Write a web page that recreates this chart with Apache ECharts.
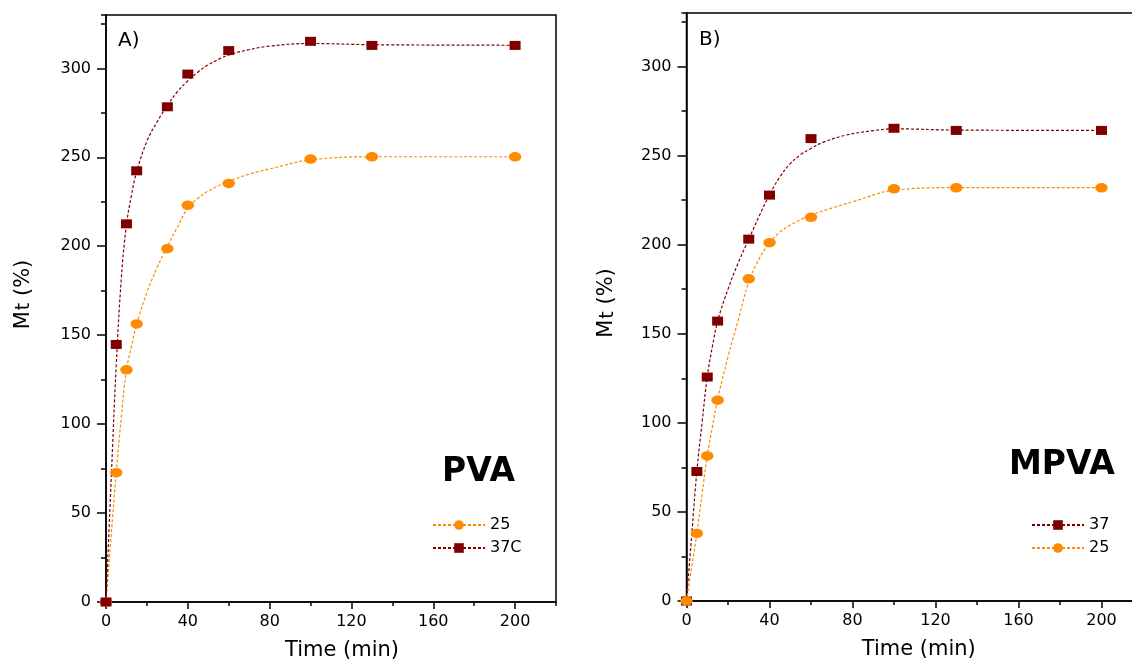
<!DOCTYPE html>
<html><head><meta charset="utf-8">
<script src="https://cdn.jsdelivr.net/npm/echarts@6/dist/echarts.min.js"></script>
<style>html,body{margin:0;padding:0;background:#fff}#c{width:1132px;height:660px}</style>
</head><body><div id="c"></div>
<script>
// ---- measured points ----
const timeMin = [0, 5, 10, 15, 30, 40, 60, 100, 130, 200];
const pva25  = [0, 72.7, 130.5, 156.3, 198.6, 223, 235.3, 249, 250.3, 250.3];
const pva37  = [0, 144.8, 212.6, 242.4, 278.4, 296.8, 310, 315.2, 312.9, 312.9];
const mpva37 = [0, 72.7, 125.7, 157.1, 203.1, 227.8, 259.5, 265.3, 264.1, 264.1];
const mpva25 = [0, 37.9, 81.4, 112.7, 180.8, 201.1, 215.3, 231.3, 231.9, 231.9];

// ---- dashed curves ----
const pva37CurveT = [0,2.5,5,7.5,10,12.5,15,20,25,30,35,40,45,50,60,70,80,100,130,200];
const pva37CurveY = [0,68,133,182,212,229,242,259,270,279,287,293,298,302,307.5,310.5,312.5,314,313.3,313];
const pva25CurveT = [0,2.5,5,7.5,10,12.5,15,20,25,30,35,40,45,50,60,70,80,100,130,200];
const pva25CurveY = [0,37,72.7,104,130.5,144,156.3,174,188,200,211,221.5,227,231,236.5,240.5,243.5,248.5,250.3,250.3];
const mpva37CurveT = [0,2.5,5,7.5,10,12.5,15,20,25,30,35,40,45,50,55,60,66,77,90,100,130,200];
const mpva37CurveY = [0,37,73,100,126,143,157,175,190,203,216,228,238,245.5,250.5,254,257.5,261.5,264,265,264.3,264.1];
const mpva25CurveT = [0,2.5,5,7.5,10,12.5,15,20,25,30,35,40,45,50,60,70,80,100,130,200];
const mpva25CurveY = [0,19,38,60,81.5,98,113,137,158,179,192,201,207,211,216.5,220.5,224,230.5,232,232];

// ---- axes ----
const xMax = 220, xStep = 40, xMinorStep = 20;
const yMax = 330, yStep = 50, yMinorStep = 25;
const xTitle = 'Time (min)';
const panelLabels = ['A)', 'B)'];
const panelNames = ['PVA', 'MPVA'];

const RED = '#800000', ORANGE = '#FF8A00';
const FONT = 'DejaVu Sans';

const pairs = (xs, ys) => xs.map((x, i) => [x, ys[i]]);

function mainX(grid, namePad) {
  return {
    gridIndex: grid, type: 'value', min: 0, max: xMax, interval: xStep,
    name: xTitle, nameLocation: 'middle', nameGap: 38,
    nameTextStyle: { fontFamily: FONT, fontSize: 21, color: '#000', padding: [0, 0, 0, namePad] },
    axisLine: { onZero: false, lineStyle: { color: '#000', width: 1.5 } },
    axisTick: { length: 7, lineStyle: { color: '#000', width: 1.5 } },
    axisLabel: { fontFamily: FONT, fontSize: 16, color: '#000', margin: 12, showMaxLabel: false },
    splitLine: { show: false }
  };
}
function minorX(grid) {
  return {
    gridIndex: grid, type: 'value', position: 'bottom', min: 0, max: xMax, interval: xMinorStep,
    axisLine: { show: false }, axisLabel: { show: false }, splitLine: { show: false },
    axisTick: { length: 4, lineStyle: { color: '#000', width: 1.5 } }
  };
}
function mainY(grid, nameGap, namePad) {
  return {
    gridIndex: grid, type: 'value', min: 0, max: yMax, interval: yStep, position: 'left',
    name: '{m|M}{t|t}{p| (%)}', nameLocation: 'middle', nameGap: nameGap, nameRotate: 90,
    nameTextStyle: {
      fontFamily: FONT, fontSize: 21, color: '#000', padding: [0, 0, 0, namePad],
      rich: {
        m: { fontFamily: FONT, fontSize: 21, lineHeight: 21, color: '#000' },
        t: { fontFamily: FONT, fontSize: 19, lineHeight: 19, color: '#000', padding: [12, 0, 0, 1], verticalAlign: 'bottom' },
        p: { fontFamily: FONT, fontSize: 21, lineHeight: 21, color: '#000' }
      }
    },
    axisLine: { onZero: false, lineStyle: { color: '#000', width: 1.5 } },
    axisTick: { length: 9, lineStyle: { color: '#000', width: 1.5 } },
    axisLabel: { fontFamily: FONT, fontSize: 16, color: '#000', margin: 15, showMaxLabel: false },
    splitLine: { show: false }
  };
}
function minorY(grid) {
  return {
    gridIndex: grid, type: 'value', position: 'left', min: 0, max: yMax, interval: yMinorStep,
    axisLine: { show: false }, axisLabel: { show: false }, splitLine: { show: false },
    axisTick: { length: 5, lineStyle: { color: '#000', width: 1.5 } }
  };
}

function curve(name, grid, xs, ys, color, symbol, size) {
  return {
    name, type: 'line', xAxisIndex: grid * 2, yAxisIndex: grid * 2,
    data: pairs(xs, ys), smooth: 0.4,
    showSymbol: false, symbol, symbolSize: size,
    lineStyle: { color, width: 1.2, type: [3, 2] }, itemStyle: { color },
    z: 2, silent: true
  };
}
function pts(name, grid, ys, color, symbol, size) {
  return {
    name, type: 'scatter', xAxisIndex: grid * 2, yAxisIndex: grid * 2,
    data: pairs(timeMin, ys), symbol, symbolSize: size,
    itemStyle: { color, opacity: 1 }, z: 5, silent: true
  };
}

const legendBase = {
  orient: 'vertical', itemWidth: 52, itemHeight: 12, itemGap: 7, selectedMode: false,
  textStyle: { fontFamily: FONT, fontSize: 16, color: '#000' }
};

const option = {
  animation: false,
  backgroundColor: '#fff',
  grid: [
    { left: 106, top: 15, width: 450, height: 587, show: true, borderColor: '#000', borderWidth: 1.5,
      outerBoundsMode: 'none', containLabel: false },
    { left: 686.5, top: 13, width: 456.5, height: 588, show: true, borderColor: '#000', borderWidth: 1.5,
      outerBoundsMode: 'none', containLabel: false }
  ],
  xAxis: [mainX(0, 22), minorX(0), mainX(1, 8), minorX(1)],
  yAxis: [mainY(0, 72, 28), minorY(0), mainY(1, 69, 8), minorY(1)],
  legend: [
    Object.assign({}, legendBase, { left: 427, top: 512, data: ['25', '37C'] }),
    Object.assign({}, legendBase, { left: 1026, top: 512, data: ['37', '25'] })
  ],
  series: [
    curve('25', 0, pva25CurveT, pva25CurveY, ORANGE, 'circle', [12.5, 9.5]),
    curve('37C', 0, pva37CurveT, pva37CurveY, RED, 'rect', [11, 9]),
    curve('37', 1, mpva37CurveT, mpva37CurveY, RED, 'rect', [11, 9]),
    curve('25', 1, mpva25CurveT, mpva25CurveY, ORANGE, 'circle', [12.5, 9.5]),
    pts('25', 0, pva25, ORANGE, 'circle', [12.5, 9.5]),
    pts('37C', 0, pva37, RED, 'rect', [11, 9]),
    pts('37', 1, mpva37, RED, 'rect', [11, 9]),
    pts('25', 1, mpva25, ORANGE, 'circle', [12.5, 9.5])
  ],
  graphic: [
    { type: 'text', x: 118, y: 41, style: { text: panelLabels[0], font: '20px "DejaVu Sans"', fill: '#000', verticalAlign: 'middle' } },
    { type: 'text', x: 699, y: 40, style: { text: panelLabels[1], font: '20px "DejaVu Sans"', fill: '#000', verticalAlign: 'middle' } },
    { type: 'text', x: 442, y: 472, style: { text: panelNames[0], font: 'bold 33px "DejaVu Sans"', fill: '#000', verticalAlign: 'middle' } },
    { type: 'text', x: 1009, y: 465, style: { text: panelNames[1], font: 'bold 33px "DejaVu Sans"', fill: '#000', verticalAlign: 'middle' } }
  ]
};

const chart = echarts.init(document.getElementById('c'), null, { renderer: 'canvas' });
chart.setOption(option);
</script>
</body></html>
